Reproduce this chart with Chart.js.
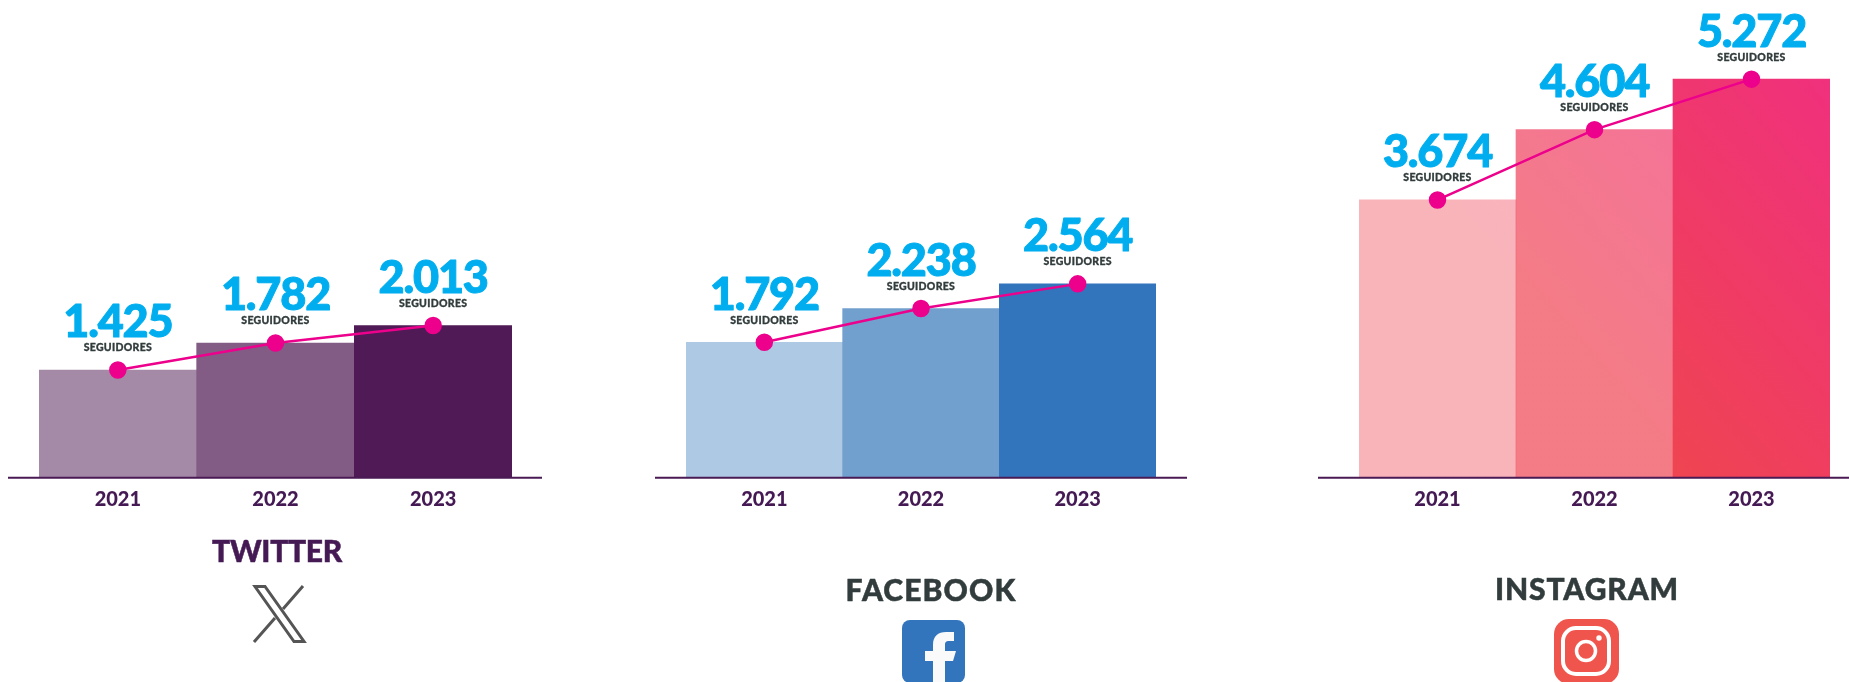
<!DOCTYPE html>
<html>
<head>
<meta charset="utf-8">
<script src="https://cdn.jsdelivr.net/npm/chart.js@4"></script>
<style>
  html, body { margin: 0; padding: 0; background: #fff; overflow: hidden; }
  #page { position: relative; width: 1849px; height: 682px; overflow: hidden; }
  canvas { position: absolute; top: 0; }
  .title { position: absolute; transform: translateX(-50%); font: 900 30px Lato, sans-serif; line-height: 30px; white-space: nowrap; -webkit-text-stroke: 0.5px currentColor; }
  .icon { position: absolute; }
</style>
</head>
<body>
<div id="page">
  <canvas id="twitterChart" width="560" height="682" style="left:0"></canvas>
  <canvas id="facebookChart" width="560" height="682" style="left:640px"></canvas>
  <canvas id="instagramChart" width="549" height="682" style="left:1300px"></canvas>

  <div class="title" style="left:277px;top:535px;color:#451a54;letter-spacing:-0.3px">TWITTER</div>
  <div class="title" style="left:931px;top:574px;color:#323c3c;letter-spacing:1.1px">FACEBOOK</div>
  <div class="title" style="left:1587px;top:573px;color:#323c3c;letter-spacing:0.9px">INSTAGRAM</div>

  <svg class="icon" style="left:252px;top:585px" width="56" height="58" viewBox="0 0 56 58">
    <g fill="none" stroke="#555" stroke-width="3">
      <path d="M3 1.500h10l39 55H42z"/>
      <path d="M51 1 31 24M23 33 2 57"/>
    </g>
  </svg>
  <svg class="icon" style="left:902px;top:620px" width="63" height="63" viewBox="0 0 63 63">
    <rect width="63" height="63" rx="8" fill="#3375bc"/>
    <path fill="#fafafa" d="M31 63V41h-8V31h8v-6c0-9 5-13 13-13h8v9h-5c-3 0-4 1-4 4v6h11l-3 10h-8v22z"/>
  </svg>
  <svg class="icon" style="left:1554px;top:619px" width="65" height="65" viewBox="0 0 65 65">
    <rect width="65" height="65" rx="15" fill="#f0554d"/>
    <rect x="9" y="9" width="46" height="46" rx="13" fill="none" stroke="#fff" stroke-width="4"/>
    <circle cx="32" cy="32" r="9.5" fill="none" stroke="#fff" stroke-width="3.500"/>
    <circle cx="45" cy="19" r="2.700" fill="#fff"/>
  </svg>
</div>

<script>
const years = ['2021', '2022', '2023'];
const twitterFollowers = [1425, 1782, 2013];
const facebookFollowers = [1792, 2238, 2564];
const instagramFollowers = [3674, 4604, 5272];
const unitLabel = 'SEGUIDORES';

const twitterColors = ['#a58aa8', '#835c86', '#4f1a55'];
const facebookColors = ['#aec9e3', '#719fce', '#3375bc'];
const instagramAlpha = [0.4, 0.7, 1];

// all three panels share the same scale so bar heights compare
const Y_MAX = 6000;
const BASELINE = 477.7;

function fmt(n) {
  return String(n).replace(/\B(?=(\d{3})+$)/g, '.');
}

// diagonal gradient over the whole plot, each bar fades it by alpha
function instagramBar(ctx) {
  const { chart, dataIndex } = ctx;
  const area = chart.chartArea;
  if (!area) return '#f0445f';
  const a = instagramAlpha[dataIndex];
  const g = chart.ctx.createLinearGradient(area.left, area.bottom, area.right, area.top + 50);
  g.addColorStop(0.4, `rgba(239,68,82,${a})`);
  g.addColorStop(1, `rgba(240,48,125,${a})`);
  return g;
}

const followersPlugin = {
  id: 'followers',
  afterDatasetsDraw(chart, args, opts) {
    const c = chart.ctx;
    const area = chart.chartArea;
    const y0 = chart.scales.y.getPixelForValue(0);

    // baseline runs past the bars on both sides
    c.save();
    c.strokeStyle = '#4a1a55';
    c.lineWidth = 2;
    c.beginPath();
    c.moveTo(area.left - opts.overhang[0], y0);
    c.lineTo(area.right + opts.overhang[1], y0);
    c.stroke();

    c.textAlign = 'center';
    c.textBaseline = 'middle';
    c.lineJoin = 'round';
    chart.data.datasets[1].data.forEach((v, i) => {
      const x = chart.scales.x.getPixelForValue(i);
      const y = chart.scales.y.getPixelForValue(v);
      c.font = '900 45px Lato, sans-serif';
      c.letterSpacing = '-1.2px';
      c.fillStyle = '#00aeef';
      c.strokeStyle = '#00aeef';
      c.lineWidth = 1;
      c.fillText(fmt(v), x, y - 47);
      c.strokeText(fmt(v), x, y - 47);
      c.font = '900 10.5px Lato, sans-serif';
      c.letterSpacing = '0.3px';
      c.fillStyle = '#323c3c';
      c.strokeStyle = '#323c3c';
      c.lineWidth = 0.3;
      c.fillText(unitLabel, x, y - 22);
      c.strokeText(unitLabel, x, y - 22);
    });
    c.restore();
  }
};

function makeChart(id, values, barColors, padLeft, padRight, overhang) {
  return new Chart(document.getElementById(id), {
    data: {
      labels: years,
      datasets: [
        {
          type: 'line',
          data: values,
          order: 0,
          borderColor: '#ec008c',
          backgroundColor: '#ec008c',
          borderWidth: 2.5,
          pointRadius: 7.5,
          tension: 0
        },
        {
          type: 'bar',
          data: values,
          order: 1,
          backgroundColor: barColors,
          borderWidth: 0,
          barPercentage: 1,
          categoryPercentage: 1
        }
      ]
    },
    options: {
      responsive: false,
      animation: false,
      layout: { padding: { left: padLeft, right: padRight, top: BASELINE - Y_MAX * 0.0756, bottom: 0 } },
      plugins: {
        legend: { display: false },
        tooltip: { enabled: false },
        followers: { overhang: overhang }
      },
      scales: {
        x: {
          offset: true,
          grid: { display: false, drawTicks: false },
          border: { display: false },
          ticks: { color: '#451a54', font: { family: 'Lato', size: 20, weight: '900' }, padding: 10 },
          afterFit(scale) { scale.height = 682 - BASELINE; }
        },
        y: { display: false, min: 0, max: Y_MAX }
      }
    },
    plugins: [followersPlugin]
  });
}

makeChart('twitterChart', twitterFollowers, twitterColors, 39, 48, [31, 30]);
makeChart('facebookChart', facebookFollowers, facebookColors, 46, 44, [31, 31]);
makeChart('instagramChart', instagramFollowers, instagramBar, 59, 19, [41, 19]);
</script>
</body>
</html>
